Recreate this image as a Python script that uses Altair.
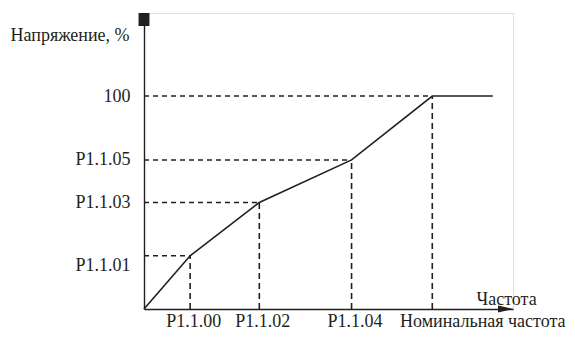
import altair as alt
import pandas as pd

# V/f curve breakpoints: frequency (% of nominal) and voltage (%)
freq = [0, 16, 40, 72, 100, 121]
volt = [0, 25, 50, 70, 100, 100]

x_ticks = [16, 40, 72, 100]
x_labels = ["P1.1.00", "P1.1.02", "P1.1.04", "Номинальная частота"]
y_ticks = [25, 50, 70, 100]
y_labels = ["P1.1.01", "P1.1.03", "P1.1.05", "100"]

x_title = "Частота"
y_title = "Напряжение, %"

x_max = 128
y_max = 139

FONT = "'Liberation Serif', 'Times New Roman', 'DejaVu Serif', serif"
INK = "#231f20"


def label_expr(vals, labs):
    expr = "''"
    for v, l in reversed(list(zip(vals, labs))):
        expr = f"datum.value == {v} ? '{l}' : {expr}"
    return expr


curve = pd.DataFrame({"f": freq, "v": volt})
guides = pd.DataFrame({"f": freq[1:5], "v": volt[1:5], "f0": 0, "v0": 0})
xend = pd.DataFrame({"f": [x_max], "v": [0]})
yend = pd.DataFrame({"f": [0], "v": [y_max]})

xscale = alt.Scale(domain=[0, x_max], nice=False, zero=True)
yscale = alt.Scale(domain=[0, y_max], nice=False, zero=True)

xaxis = alt.Axis(
    values=x_ticks,
    labelExpr=label_expr(x_ticks, x_labels),
    grid=False, ticks=False, domain=True, domainColor=INK, domainWidth=1.4,
    labelFont=FONT, labelFontSize=18, labelColor=INK, labelPadding=17,
    labelBaseline="alphabetic",
    labelOverlap=False, labelFlush=False, labelBound=False,
    labelOffset={"condition": {"test": "datum.value == 100", "value": 50}, "value": 3},
    title=x_title, titleFont=FONT, titleFontSize=18, titleFontWeight="normal",
    titleColor=INK, titleAlign="left", titleBaseline="alphabetic",
    titleAnchor="start", titleX=332, titleY=-5,
)
yaxis = alt.Axis(
    values=y_ticks,
    labelExpr=label_expr(y_ticks, y_labels),
    grid=False, ticks=False, domain=True, domainColor=INK, domainWidth=1.4,
    labelFont=FONT, labelFontSize=18, labelColor=INK, labelPadding=14,
    labelOverlap=False, labelFlush=False, labelBound=False,
    labelOffset={"condition": {"test": "datum.value == 25", "value": 10}, "value": 0},
    title=y_title, titleFont=FONT, titleFontSize=18, titleFontWeight="normal",
    titleColor=INK, titleAngle=0, titleAlign="left", titleBaseline="alphabetic",
    titleX=-134, titleY=27,
)


def X(field):
    return alt.X(field, type="quantitative", scale=xscale, axis=xaxis)


def Y(field):
    return alt.Y(field, type="quantitative", scale=yscale, axis=yaxis)


hdash = alt.Chart(guides).mark_rule(color=INK, strokeWidth=1.6, strokeDash=[5, 4]).encode(
    x=X("f0"), x2="f", y=Y("v")
)
vdash = alt.Chart(guides).mark_rule(color=INK, strokeWidth=1.6, strokeDash=[6, 4]).encode(
    x=X("f"), y=Y("v0"), y2="v"
)
line = alt.Chart(curve).mark_line(color=INK, strokeWidth=1.6).encode(
    x=X("f"), y=Y("v")
)
arrow = alt.Chart(xend).mark_point(
    shape="M-2,-0.47L0,0L-2,0.47Z", filled=True, color=INK, opacity=1, size=225
).encode(x=X("f"), y=Y("v"))
square = alt.Chart(yend).mark_point(
    shape="M-0.42,0L0.42,0L0.42,1L-0.42,1Z", filled=True, color=INK, opacity=1, size=676
).encode(x=X("f"), y=Y("v"))

chart = alt.layer(hdash, vdash, line, arrow, square).properties(
    width=369, height=296,
    autosize=alt.AutoSizeParams(type="none"),
    padding={"left": 136, "top": 5, "right": 54, "bottom": 21},
).configure_view(stroke=None).configure(background="white")

chart.save("out.html", embed_options={"renderer": "svg", "actions": False})
